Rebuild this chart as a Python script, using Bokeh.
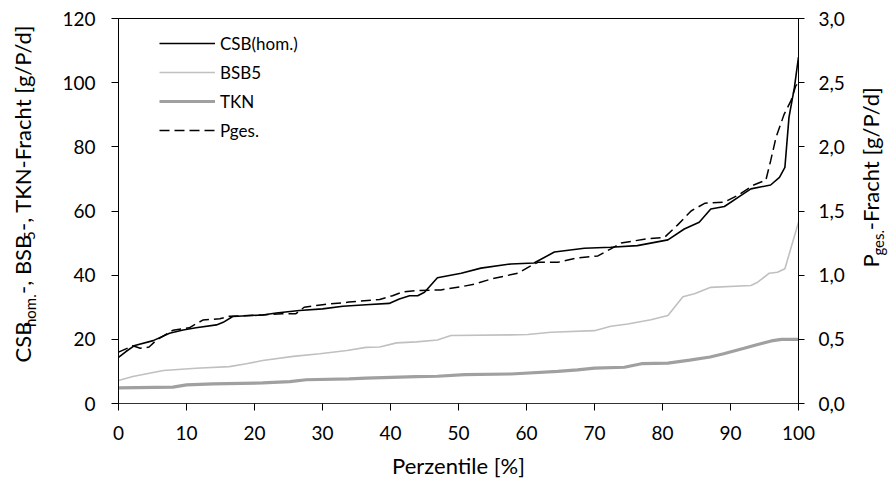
import math
from bokeh.plotting import figure
from bokeh.layouts import row
from bokeh.models import (Range1d, LinearAxis, FixedTicker, Legend, LegendItem,
                          CustomJSTickFormatter)
from bokeh.core.properties import value
from bokeh.embed import file_html
from bokeh.resources import INLINE

# ---------------- data ----------------
csb_x = [0, 1.1, 2.4, 5.1, 7.5, 9.5, 11.4, 14.4, 15.4, 16.8, 21.2, 23.2, 26.6, 30.0,
         33.0, 36.4, 39.8, 41.3, 42.8, 44.0, 45.0, 46.9, 50.4, 53.3, 57.7, 61.1, 64.1,
         68.5, 72.4, 76.3, 80.8, 83.2, 85.4, 87.1, 89.1, 91.5, 93.0, 95.9, 97.2, 98.0,
         98.6, 99.4, 100]
csb_y = [14.4, 16.2, 18.1, 19.6, 21.9, 22.9, 23.6, 24.5, 25.3, 27.1, 27.6, 28.2, 29.0,
         29.5, 30.3, 30.8, 31.2, 32.6, 33.6, 33.6, 34.7, 39.2, 40.6, 42.2, 43.5, 43.8,
         47.2, 48.4, 48.7, 49.2, 51.0, 54.4, 56.5, 60.6, 61.4, 64.8, 66.9, 68.1, 70.5,
         73.6, 89.2, 98.5, 108.0]

bsb_x = [0, 2.1, 6.6, 11.4, 16.3, 18.8, 21.2, 25.7, 29.6, 33.6, 36.4, 38.4, 40.9, 43.8,
         46.9, 48.9, 57.7, 60.2, 63.6, 70.0, 72.4, 74.9, 78.3, 80.8, 83.0, 84.7, 87.1,
         93.0, 94.0, 95.7, 96.9, 98.0, 100]
bsb_y = [7.2, 8.4, 10.3, 11.0, 11.5, 12.4, 13.4, 14.7, 15.5, 16.5, 17.5, 17.6, 18.9,
         19.2, 19.8, 21.2, 21.4, 21.5, 22.2, 22.7, 24.1, 24.8, 26.1, 27.4, 33.3, 34.2,
         36.2, 36.8, 37.8, 40.6, 40.9, 42.0, 56.5]

tkn_x = [0, 8.0, 10.0, 13.9, 21.2, 25.2, 27.6, 33.9, 36.4, 43.8, 46.9, 50.9, 57.7, 64.6,
         67.5, 70.0, 74.4, 76.9, 80.8, 84.0, 87.0, 89.0, 92.0, 94.0, 96.0, 97.5, 100]
tkn_y = [4.9, 5.1, 5.8, 6.1, 6.4, 6.8, 7.4, 7.7, 7.9, 8.4, 8.5, 9.0, 9.2, 10.0, 10.5,
         11.0, 11.3, 12.4, 12.6, 13.5, 14.5, 15.5, 17.2, 18.4, 19.5, 20.0, 20.0]

pges_x = [0, 2.1, 3.2, 4.5, 5.6, 8.0, 10.4, 12.4, 14.9, 16.3, 21.2, 24.1, 26.1, 27.3,
          30.0, 33.9, 38.4, 40.3, 41.8, 43.8, 47.4, 50.4, 52.3, 54.8, 58.7, 60.7, 61.7,
          64.6, 67.5, 70.5, 72.4, 73.9, 77.3, 80.3, 82.2, 84.2, 86.2, 89.1, 91.0, 93.5,
          95.2, 95.9, 96.7, 97.9, 98.9, 99.6, 100]
pges_y = [0.40, 0.45, 0.43, 0.44, 0.495, 0.57, 0.59, 0.65, 0.66, 0.68, 0.69, 0.70,
          0.70, 0.75, 0.77, 0.79, 0.81, 0.84, 0.87, 0.88, 0.885, 0.91, 0.93, 0.97,
          1.015, 1.075, 1.10, 1.10, 1.135, 1.15, 1.205, 1.25, 1.28, 1.295, 1.39, 1.50,
          1.56, 1.57, 1.62, 1.705, 1.74, 1.89, 2.075, 2.255, 2.36, 2.475, 2.50]

x_ticks = [0, 10, 20, 30, 40, 50, 60, 70, 80, 90, 100]
left_ticks = [0, 20, 40, 60, 80, 100, 120]
right_ticks = [0, 0.5, 1.0, 1.5, 2.0, 2.5, 3.0]

left_title = [("CSB", False), ("hom.", True), ("-, BSB", False), ("5", True),
              ("-, TKN-Fracht [g/P/d]", False)]
right_title = [("P", False), ("ges.", True), ("-Fracht [g/P/d]", False)]

FONT = "Lato"
TICK_SIZE = "19px"
TITLE_MAIN = "22px"
TITLE_SUB = "15px"

W, H = 888, 481
LW, RW = 45, 40                # side strips for the rotated axis titles
MW = W - LW - RW               # main figure width
FRAME_L, FRAME_R = 118, 798    # frame edges in window pixels
T, B = 18, 78

# ---------------- main figure ----------------
p = figure(width=MW, height=H, output_backend="svg", toolbar_location=None,
           x_range=Range1d(0, 100), y_range=Range1d(0, 120),
           min_border_left=FRAME_L - LW, min_border_right=MW - (FRAME_R - LW),
           min_border_top=T, min_border_bottom=B)
p.extra_y_ranges = {"p": Range1d(0, 3)}
p.grid.visible = False
p.outline_line_color = "black"
p.outline_line_width = 1

def style_axis(ax):
    ax.axis_line_color = "black"
    ax.major_tick_line_color = "black"
    ax.major_tick_out = 7
    ax.major_tick_in = 0
    ax.minor_tick_line_color = None
    ax.major_label_text_font = FONT
    ax.major_label_text_font_size = TICK_SIZE
    ax.major_label_text_color = "black"

xa = p.xaxis[0]
style_axis(xa)
xa.ticker = FixedTicker(ticks=x_ticks)
xa.major_label_standoff = 15
xa.axis_line_color = "#333333"
xa.axis_label = "Perzentile [%]"
xa.axis_label_text_font = FONT
xa.axis_label_text_font_size = "22px"
xa.axis_label_text_font_style = "normal"
xa.axis_label_text_color = "black"
xa.axis_label_standoff = 9

ya = p.yaxis[0]
style_axis(ya)
ya.ticker = FixedTicker(ticks=left_ticks)
ya.major_label_standoff = 16

ra = LinearAxis(y_range_name="p")
style_axis(ra)
ra.major_tick_out = 6
ra.ticker = FixedTicker(ticks=right_ticks)
ra.formatter = CustomJSTickFormatter(code="return tick.toFixed(1).replace('.', ',');")
ra.major_label_standoff = 14
p.add_layout(ra, "right")

# ---------------- lines ----------------
r_tkn = p.line(tkn_x, tkn_y, line_color="#a0a0a0", line_width=3.2)
r_bsb = p.line(bsb_x, bsb_y, line_color="#c0c0c0", line_width=1.6)
r_pges = p.line(pges_x, pges_y, y_range_name="p", line_color="black",
                line_width=1.5, line_dash="10 5")
r_csb = p.line(csb_x, csb_y, line_color="black", line_width=1.6)

legend = Legend(items=[
    LegendItem(label="CSB(hom.)", renderers=[r_csb]),
    LegendItem(label="BSB5", renderers=[r_bsb]),
    LegendItem(label="TKN", renderers=[r_tkn]),
    LegendItem(label="Pges.", renderers=[r_pges]),
])
legend.label_text_font = FONT
legend.label_text_font_size = "17px"
legend.label_text_color = "black"
legend.glyph_width = 56
legend.glyph_height = 20
legend.label_height = 20
legend.label_standoff = 5
legend.spacing = 8
legend.padding = 0
legend.margin = 0
legend.border_line_color = None
legend.background_fill_alpha = 0
fh = H - T - B
legend_h = 4 * 20 + 3 * 8
legend.location = (41, fh - 18.7 - legend_h)
p.add_layout(legend, "center")

# ---------------- rotated axis titles (side strips) ----------------
# strips share the main frame's vertical extent; their y data = window pixel
# measured from the bottom of the window
def strip(width):
    f = figure(width=width, height=H, output_backend="svg", toolbar_location=None,
               x_range=Range1d(0, width), y_range=Range1d(B, H - T),
               min_border_left=0, min_border_right=0,
               min_border_top=T, min_border_bottom=B,
               x_axis_location=None, y_axis_location=None)
    f.outline_line_color = None
    f.grid.visible = False
    return f

# approximate advance widths (px) of each segment, used to chain the pieces
left_w = [35.5, 33.1, 53.8, 9.2, 0]
right_w = [11.9, 25.4, 0]

def put_title(f, segs, widths, base_main, base_sub, py_start):
    pos = py_start
    for (text, is_sub), w in zip(segs, widths):
        f.text(x=[base_sub if is_sub else base_main], y=[H - pos], text=[text],
               angle=math.pi / 2, text_font=value(FONT),
               text_font_size=value(TITLE_SUB if is_sub else TITLE_MAIN),
               text_color="black", text_align="left", text_baseline="alphabetic")
        pos -= w

lf = strip(LW)
put_title(lf, left_title, left_w, 22, 29, 362)

rf = strip(RW)
put_title(rf, right_title, right_w, 22, 29, 267)

layout = row(lf, p, rf)
open("out.html", "w").write(file_html(layout, INLINE))
